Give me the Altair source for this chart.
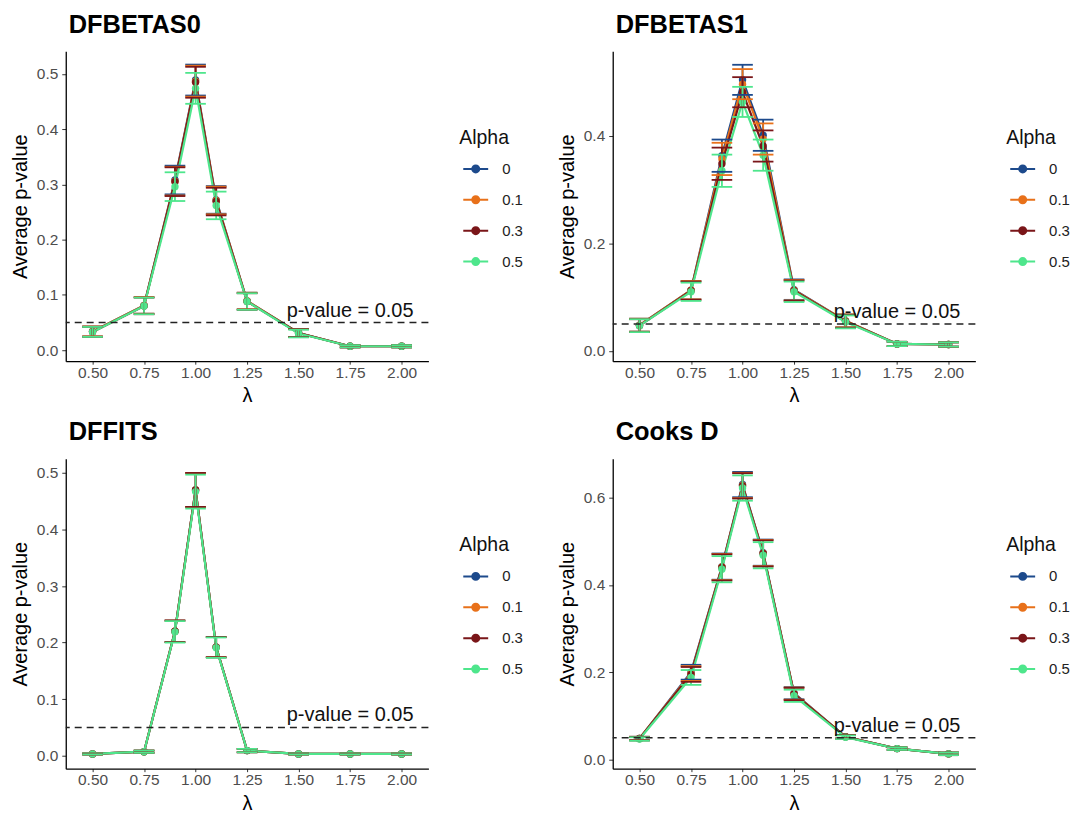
import altair as alt
import pandas as pd

lam = [0.5, 0.75, 0.9, 1.0, 1.1, 1.25, 1.5, 1.75, 2.0]
x_ticks = [0.5, 0.75, 1.0, 1.25, 1.5, 1.75, 2.0]
alphas = ["0", "0.1", "0.3", "0.5"]
colors = ["#1d4a8c", "#e8711a", "#7a1619", "#4ee68c"]
threshold = 0.05
threshold_label = "p-value = 0.05"

# DFBETAS0
dfb0_a0 = [0.034, 0.081, 0.308, 0.489, 0.272, 0.089, 0.031, 0.007, 0.007]
dfb0_a1 = [0.034, 0.081, 0.306, 0.487, 0.271, 0.089, 0.031, 0.007, 0.007]
dfb0_a3 = [0.033, 0.080, 0.305, 0.485, 0.269, 0.088, 0.031, 0.007, 0.007]
dfb0_a5 = [0.033, 0.080, 0.296, 0.474, 0.262, 0.088, 0.030, 0.007, 0.007]
dfb0_half = [0.009, 0.015, 0.026, 0.028, 0.025, 0.015, 0.007, 0.002, 0.002]

# DFBETAS1
dfb1_a0 = [0.048, 0.113, 0.363, 0.504, 0.401, 0.114, 0.056, 0.013, 0.012]
dfb1_a1 = [0.048, 0.113, 0.357, 0.496, 0.394, 0.113, 0.056, 0.013, 0.012]
dfb1_a3 = [0.047, 0.112, 0.348, 0.481, 0.381, 0.112, 0.055, 0.013, 0.012]
dfb1_a5 = [0.047, 0.110, 0.335, 0.463, 0.364, 0.110, 0.054, 0.013, 0.012]
dfb1_half = [0.012, 0.017, 0.030, 0.028, 0.029, 0.019, 0.012, 0.004, 0.004]

# DFFITS
dff_a0 = [0.003, 0.007, 0.220, 0.470, 0.192, 0.009, 0.003, 0.003, 0.003]
dff_a1 = [0.003, 0.007, 0.220, 0.470, 0.192, 0.009, 0.003, 0.003, 0.003]
dff_a3 = [0.003, 0.007, 0.220, 0.470, 0.192, 0.009, 0.003, 0.003, 0.003]
dff_a5 = [0.003, 0.007, 0.219, 0.467, 0.191, 0.009, 0.003, 0.003, 0.003]
dff_half = [0.001, 0.002, 0.019, 0.030, 0.018, 0.003, 0.001, 0.001, 0.001]

# Cooks D
cook_a0 = [0.048, 0.200, 0.442, 0.630, 0.474, 0.152, 0.052, 0.025, 0.013]
cook_a1 = [0.048, 0.197, 0.441, 0.628, 0.473, 0.151, 0.052, 0.025, 0.013]
cook_a3 = [0.048, 0.195, 0.440, 0.627, 0.472, 0.150, 0.052, 0.025, 0.013]
cook_a5 = [0.047, 0.188, 0.436, 0.622, 0.468, 0.146, 0.051, 0.025, 0.013]
cook_half = [0.004, 0.017, 0.030, 0.029, 0.030, 0.014, 0.004, 0.003, 0.003]

FONT = "Liberation Sans"
W, H = 364, 311
LEG_PATH = "M-1,0H1M0.28,0A0.28,0.28,0,1,1,-0.28,0A0.28,0.28,0,1,1,0.28,0Z"


def make_panel(title, means, half, ydom, yticks):
    rows = []
    for a, m in zip(alphas, means):
        for x, v, h in zip(lam, m, half):
            rows.append(dict(lam=x, alpha=a, mean=v, lo=v - h, hi=v + h,
                             xl=x - 0.05, xr=x + 0.05))
    df = pd.DataFrame(rows)
    base = alt.Chart(df)
    xs = alt.Scale(domain=[0.37, 2.13], nice=False, zero=False)
    ys = alt.Scale(domain=ydom, nice=False, zero=False)
    xax = alt.Axis(values=x_ticks, format=".2f", title="λ")
    yax = alt.Axis(values=yticks, format=".1f", title="Average p-value")
    color = alt.Color(
        "alpha:N",
        scale=alt.Scale(domain=alphas, range=colors),
        legend=alt.Legend(
            title="Alpha", orient="none", legendX=395, legendY=78,
            symbolType=LEG_PATH, symbolSize=625, symbolStrokeWidth=2,
            symbolOffset=3,
            labelFontSize=15, titleFontSize=19.5, titleFontWeight="normal",
            rowPadding=9, labelOffset=13, titlePadding=7,
            labelFont=FONT, titleFont=FONT, labelColor="#222", titleColor="#111",
        ),
    )
    line = base.mark_line(strokeWidth=2.2).encode(
        x=alt.X("lam:Q", scale=xs, axis=xax),
        y=alt.Y("mean:Q", scale=ys, axis=yax),
        color=color,
    )
    pts = base.mark_circle(size=55, opacity=1).encode(
        x=alt.X("lam:Q", scale=xs), y=alt.Y("mean:Q", scale=ys), color=color
    )
    vbar = base.mark_rule(strokeWidth=1.8).encode(
        x="lam:Q", y="lo:Q", y2="hi:Q", color=color
    )
    cap_hi = base.mark_rule(strokeWidth=1.8).encode(
        x="xl:Q", x2="xr:Q", y="hi:Q", color=color
    )
    cap_lo = base.mark_rule(strokeWidth=1.8).encode(
        x="xl:Q", x2="xr:Q", y="lo:Q", color=color
    )
    hline = alt.Chart().mark_rule(strokeDash=[7, 5], color="#222", strokeWidth=1.5).encode(
        y=alt.datum(threshold)
    )
    txt = alt.Chart().mark_text(
        text=threshold_label, fontSize=20, font=FONT, dy=-6,
        baseline="alphabetic", align="center", color="#111"
    ).encode(x=alt.datum(1.75), y=alt.datum(threshold))
    return alt.layer(line, pts, vbar, cap_hi, cap_lo, hline, txt).properties(
        width=W, height=H,
        title=alt.TitleParams(title, anchor="start", frame="group", fontSize=25.5,
                              fontWeight="bold", font=FONT, offset=13, dx=3, color="#000"),
    )


p1 = make_panel("DFBETAS0", [dfb0_a0, dfb0_a1, dfb0_a3, dfb0_a5], dfb0_half,
                [-0.02, 0.541], [0.0, 0.1, 0.2, 0.3, 0.4, 0.5])
p2 = make_panel("DFBETAS1", [dfb1_a0, dfb1_a1, dfb1_a3, dfb1_a5], dfb1_half,
                [-0.019, 0.557], [0.0, 0.2, 0.4])
p3 = make_panel("DFFITS", [dff_a0, dff_a1, dff_a3, dff_a5], dff_half,
                [-0.023, 0.525], [0.0, 0.1, 0.2, 0.3, 0.4, 0.5])
p4 = make_panel("Cooks D", [cook_a0, cook_a1, cook_a3, cook_a5], cook_half,
                [-0.021, 0.689], [0.0, 0.2, 0.4, 0.6])

row1 = alt.hconcat(p1, p2, spacing=34).resolve_scale(color="independent").resolve_legend(color="independent")
row2 = alt.hconcat(p3, p4, spacing=34).resolve_scale(color="independent").resolve_legend(color="independent")

chart = alt.vconcat(row1, row2, spacing=14).resolve_scale(color="independent").resolve_legend(
    color="independent"
).properties(
    padding={"left": 10, "top": 11, "right": 5, "bottom": 5},
    background="white",
).configure_view(stroke=None).configure_axis(
    grid=False, domainColor="#000", domainWidth=1.3, tickColor="#333", tickSize=4,
    labelColor="#4d4d4d", labelFontSize=15.5, labelFont=FONT, titleFont=FONT,
    titleFontSize=20, titleFontWeight="normal", titleColor="#000", labelPadding=4,
    titlePadding=6,
).configure_axisX(
    tickSize=3, labelPadding=1, titlePadding=5
)

chart.save("out.html", embed_options={"renderer": "svg", "actions": False})
